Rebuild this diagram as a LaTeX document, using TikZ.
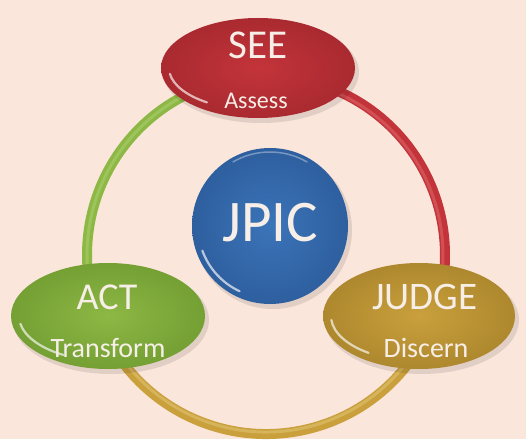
\documentclass[tikz,border=0pt]{standalone}
\usepackage{fontspec}
\setmainfont{Carlito}
\usetikzlibrary{shapes.geometric,calc}
\definecolor{bg}{HTML}{FBE6DC}
\definecolor{redbase}{HTML}{C3343A}
\definecolor{redout}{HTML}{A92A30}
\definecolor{redlight}{HTML}{DC6266}
\definecolor{grnbase}{HTML}{8DB845}
\definecolor{grnout}{HTML}{74A034}
\definecolor{grnlight}{HTML}{A9CE6C}
\definecolor{gldbase}{HTML}{C9A03C}
\definecolor{gldout}{HTML}{AE882E}
\definecolor{gldlight}{HTML}{E0C270}
\definecolor{blubase}{HTML}{3B74B8}
\definecolor{bluout}{HTML}{2E5F9F}
\definecolor{txt}{HTML}{F7EEE8}
\tikzset{
  blob/.style={ellipse, inner sep=0pt, draw=none},
  shadowblob/.style={ellipse, inner sep=0pt, fill=black, fill opacity=0.10, draw=none},
  gloss/.style={white, opacity=0.65, line width=2.2pt, line cap=round},
  ringtube/.style={line width=10pt, line cap=butt},
  ringstripe/.style={line width=3pt, opacity=0.6},
  title/.style={inner sep=0pt, text=txt, font=\fontsize{41}{41}\selectfont},
  sub/.style={inner sep=0pt, text=txt, font=\fontsize{28}{28}\selectfont},
}
\begin{document}
\begin{tikzpicture}[x=1pt,y=1pt]
\fill[bg] (0,0) rectangle (526,439);
\useasboundingbox (0,0) rectangle (526,439);
\coordinate (ring) at (266,184);
% ring arcs
\draw[ringtube, grnbase] ($(ring)+(90:179)$) arc[start angle=90, end angle=201, radius=179];
\draw[ringstripe, grnlight] ($(ring)+(90:179)$) arc[start angle=90, end angle=201, radius=179];
\draw[ringtube, redbase] ($(ring)+(-22:179)$) arc[start angle=-22, end angle=90, radius=179];
\draw[ringstripe, redlight] ($(ring)+(-22:177)$) arc[start angle=-22, end angle=90, radius=177];
\draw[ringtube, gldbase] ($(ring)+(201:179)$) arc[start angle=201, end angle=338, radius=179];
\draw[ringstripe, gldlight] ($(ring)+(201:177)$) arc[start angle=201, end angle=338, radius=177];
% shadows
\node[shadowblob, minimum width=196pt, minimum height=102pt] (sees) at (261,367) {};
\node[shadowblob, minimum width=196pt, minimum height=108pt] (acts) at (111,119) {};
\node[shadowblob, minimum width=194pt, minimum height=108pt] (judges) at (422,119) {};
\node[shadowblob, circle, minimum size=158pt] (jpics) at (273,209) {};
% blobs
\node[blob, minimum width=194pt, minimum height=100pt, inner color=redbase, outer color=redout] (see) at (258,371) {};
\node[blob, minimum width=194pt, minimum height=106pt, inner color=grnbase, outer color=grnout] (act) at (108,123) {};
\node[blob, minimum width=192pt, minimum height=106pt, inner color=gldbase, outer color=gldout] (judge) at (419,123) {};
\node[blob, circle, minimum size=156pt, inner color=blubase, outer color=bluout] (jpic) at (270,213) {};
% gloss highlights
\draw[gloss] ($(see.center)+(188:89 and 42)$) arc[start angle=188, end angle=235, x radius=89, y radius=42];
\draw[gloss] ($(act.center)+(190:89 and 45)$) arc[start angle=190, end angle=240, x radius=89, y radius=45];
\draw[gloss] ($(judge.center)+(185:88 and 45)$) arc[start angle=185, end angle=235, x radius=88, y radius=45];
\draw[gloss] ($(jpic.center)+(200:72)$) arc[start angle=200, end angle=245, radius=72];
\draw[gloss, opacity=0.35, line width=1.5pt] ($(jpic.center)+(60:74)$) arc[start angle=60, end angle=120, radius=74];
% texts
\node[title] (seet) at (258,394) {SEE};
\node[sub, font=\fontsize{24}{24}\selectfont] (seesub) at (256,338) {Assess};
\node[title, font=\fontsize{38}{38}\selectfont] (actt) at (107,142) {ACT};
\node[sub] (actsub) at (108,91) {Transform};
\node[title, font=\fontsize{39}{39}\selectfont] (judget) at (425,142) {JUDGE};
\node[sub] (judgesub) at (426,91) {Discern};
\node[title, font=\fontsize{59}{59}\selectfont] (jpict) at (270,216) {JPIC};
\end{tikzpicture}
\end{document}
